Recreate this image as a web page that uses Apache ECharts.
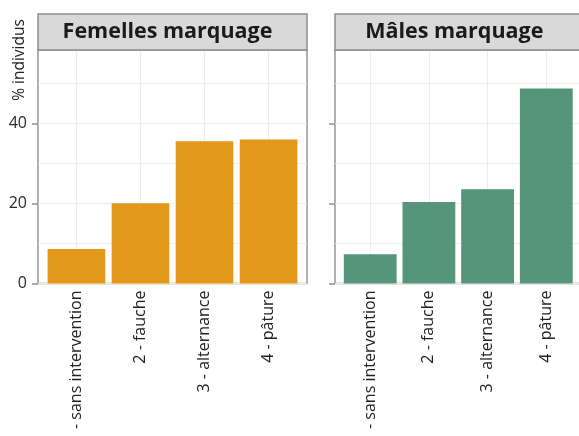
<!DOCTYPE html>
<html>
<head>
<meta charset="utf-8">
<script src="https://cdn.jsdelivr.net/npm/echarts@6/dist/echarts.min.js"></script>
<style>html,body{margin:0;padding:0;background:#fff}#c{width:579px;height:436px}</style>
</head>
<body>
<div id="c"></div>
<script>
const categories = ['1 - sans intervention', '2 - fauche', '3 - alternance', '4 - pâture'];
const panelTitles = ['Femelles marquage', 'Mâles marquage'];
const femalesValues = [8.6, 20.1, 35.6, 36.0];
const malesValues = [7.3, 20.4, 23.6, 48.8];
const yTicks = [0, 20, 40];
const yMinorGrid = [0, 10, 20, 30, 40, 50];
const yMax = 58.4;

const FONT = 'Open Sans';
const ORANGE = '#E3971B';
const GREEN = '#56957A';

const plotTop = 50, plotHeight = 233.5;
const panels = [
  { x0: 38, w: 269, values: femalesValues, color: ORANGE, labels: true },
  { x0: 335, w: 246.5, values: malesValues, color: GREEN, labels: false }
];

const grid = [], xAxis = [], yAxis = [], series = [], graphic = [];
panels.forEach((p, i) => {
  const unit = p.w / 4.2;
  const gA = grid.length;
  grid.push({ left: p.x0, top: plotTop, width: p.w, height: plotHeight, show: true,
    outerBoundsMode: 'none', containLabel: false,
    borderColor: '#959595', borderWidth: 1.5, backgroundColor: '#fff' });
  const gB = grid.length;
  grid.push({ left: p.x0 + unit * 0.1, top: plotTop, width: unit * 4, height: plotHeight,
    outerBoundsMode: 'none', containLabel: false });

  xAxis.push({ gridIndex: gA, type: 'value', min: 0, max: 4.2, position: 'bottom',
    axisLine: { show: false }, axisLabel: { show: false },
    axisTick: { show: false, customValues: [0.6, 1.6, 2.6, 3.6] },
    splitLine: { show: true, lineStyle: { color: '#e9eded', width: 1 } } });
  yAxis.push({ gridIndex: gA, type: 'value', min: 0, max: yMax, position: 'left',
    axisLine: { show: false }, axisLabel: { show: false },
    axisTick: { show: false, customValues: yMinorGrid },
    splitLine: { show: true, lineStyle: { color: '#e9eded', width: 1 } } });
  yAxis.push({ gridIndex: gA, type: 'value', min: 0, max: yMax, position: 'left',
    axisLine: { show: false }, splitLine: { show: false },
    axisTick: { show: true, length: 6, customValues: yTicks, lineStyle: { color: '#8e8e8e', width: 1.5 } },
    axisLabel: { show: p.labels, customValues: yTicks, margin: 11, fontFamily: FONT, fontSize: 16, color: '#2a2a2a' } });

  const xb = xAxis.length;
  xAxis.push({ gridIndex: gB, type: 'category', data: categories, boundaryGap: true, position: 'bottom',
    axisLine: { show: false }, axisTick: { show: false }, splitLine: { show: false },
    axisLabel: { rotate: 90, margin: 7, fontFamily: FONT, fontSize: 16, color: '#222', interval: 0 } });
  const yb = yAxis.length;
  yAxis.push({ gridIndex: gB, type: 'value', min: 0, max: yMax, show: false, position: 'left' });
  series.push({ type: 'bar', xAxisIndex: xb, yAxisIndex: yb, data: p.values,
    barCategoryGap: '10%', itemStyle: { color: p.color } });

  graphic.push({ type: 'rect', shape: { x: p.x0, y: 14, width: p.w, height: 36 },
    style: { fill: '#d9d9d9', stroke: '#8e8e8e', lineWidth: 1.5 }, z: 10 });
  graphic.push({ type: 'text', x: p.x0 + p.w / 2 - (i === 0 ? 5 : 4), y: 32,
    style: { text: panelTitles[i], font: 'bold 21.5px "' + FONT + '"', fill: '#1a1a1a',
      textAlign: 'center', textVerticalAlign: 'middle' }, z: 11 });
});

graphic.push({ type: 'text', x: 19.5, y: 60, rotation: Math.PI / 2,
  style: { text: '% individus', font: '15.5px "' + FONT + '"', fill: '#222',
    textAlign: 'center', textVerticalAlign: 'middle' }, z: 11 });

const chart = echarts.init(document.getElementById('c'));
chart.setOption({ animation: false, grid, xAxis, yAxis, series, graphic });
</script>
</body>
</html>
